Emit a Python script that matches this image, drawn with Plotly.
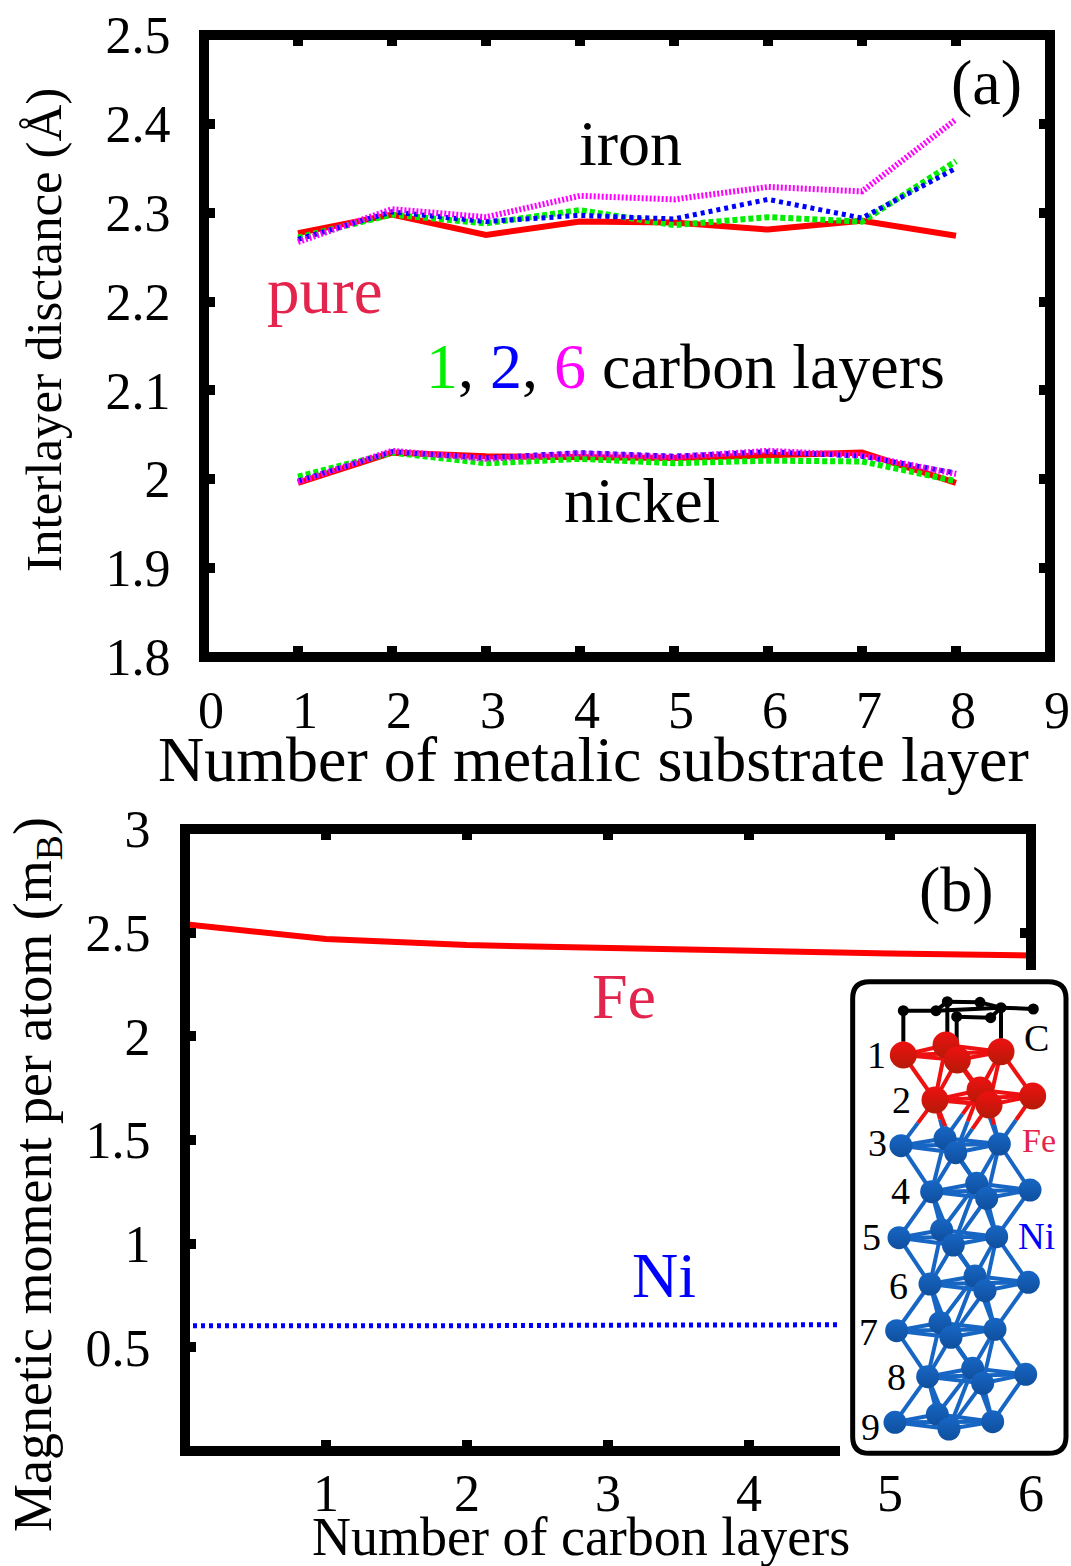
import plotly.graph_objects as go

SERIF = "Liberation Serif"
CRIMSON = "#e3254e"
WIDTH, HEIGHT = 1071, 1566

# panel (a)
layer_no = [1, 2, 3, 4, 5, 6, 7, 8]
iron_pure = [2.277, 2.298, 2.275, 2.290, 2.289, 2.281, 2.291, 2.274]
iron_c1 = [2.272, 2.298, 2.288, 2.303, 2.286, 2.295, 2.290, 2.358]
iron_c2 = [2.270, 2.301, 2.290, 2.297, 2.293, 2.315, 2.294, 2.350]
iron_c6 = [2.267, 2.304, 2.295, 2.319, 2.315, 2.329, 2.324, 2.405]
nickel_pure = [1.996, 2.030, 2.026, 2.025, 2.024, 2.027, 2.030, 1.996]
nickel_c1 = [2.003, 2.030, 2.018, 2.023, 2.018, 2.021, 2.020, 1.998]
nickel_c2 = [1.998, 2.031, 2.024, 2.030, 2.026, 2.031, 2.026, 2.007]
nickel_c6 = [1.997, 2.032, 2.023, 2.029, 2.025, 2.032, 2.027, 2.006]
a_xticks = [0, 1, 2, 3, 4, 5, 6, 7, 8, 9]
a_yticks = [1.8, 1.9, 2.0, 2.1, 2.2, 2.3, 2.4, 2.5]
a_ylabels = ["1.8", "1.9", "2", "2.1", "2.2", "2.3", "2.4", "2.5"]

# panel (b)
carbon_no = [0, 1, 2, 3, 4, 5, 6]
fe_moment = [2.541, 2.469, 2.440, 2.425, 2.415, 2.400, 2.390]
ni_moment = [0.604, 0.602, 0.604, 0.607, 0.607, 0.610, 0.610]
b_xticks = [1, 2, 3, 4, 5, 6]
b_yticks = [0.5, 1, 1.5, 2, 2.5, 3]
b_ylabels = ["0.5", "1", "1.5", "2", "2.5", "3"]

# inset structure, in the inset's own drawing units
carbon_x = [190, 288, 322, 420, 483, 580, 350, 452]
carbon_y = [122, 122, 95, 97, 113, 117, 140, 143]
carbon_bonds = [(0, 1), (1, 4), (4, 5), (2, 3), (3, 4), (6, 7), (7, 4), (1, 2)]
carbon_to_fe = [(0, 0), (2, 1), (6, 2), (4, 3)]
atom_x = [
    [190, 318, 352, 483], [285, 420, 447, 578],
    [183, 315, 347, 478], [275, 410, 440, 570],
    [177, 305, 340, 470], [270, 405, 435, 565],
    [170, 300, 333, 465], [263, 398, 428, 557],
    [165, 292, 327, 458],
]
atom_y = [
    [255, 225, 270, 245], [390, 360, 405, 378],
    [527, 505, 548, 522], [665, 640, 685, 660],
    [803, 780, 825, 800], [942, 918, 962, 937],
    [1082, 1058, 1102, 1078], [1220, 1195, 1240, 1213],
    [1357, 1333, 1377, 1355],
]
in_layer = [(0, 1), (0, 2), (0, 3), (1, 3), (2, 3)]
odd_to_even = [(0, 0), (1, 0), (2, 0), (1, 2), (2, 2), (2, 1), (3, 1), (3, 2), (3, 3)]
even_to_odd = [(0, 0), (0, 1), (0, 2), (1, 1), (1, 2), (1, 3), (2, 2), (2, 3), (3, 3)]
number_labels = ["1", "2", "3", "4", "5", "6", "7", "8", "9"]
number_x = [108, 183, 112, 180, 95, 175, 85, 168, 90]
number_y = [255, 390, 520, 662, 802, 948, 1085, 1222, 1372]


def px(x):
    return x / WIDTH


def py(y):
    return 1 - y / HEIGHT


def add_bond(xs, ys, x0, y0, x1, y1):
    xs += [x0, x1, None]
    ys += [y0, y1, None]


fig = go.Figure()

a_lines = [
    (iron_pure, "red", 6, "solid"),
    (nickel_pure, "red", 6, "solid"),
    (iron_c1, "#00ee00", 6, "5px,3px"),
    (nickel_c1, "#00ee00", 6, "5px,3px"),
    (iron_c2, "blue", 5, "4px,4px"),
    (nickel_c2, "blue", 5, "4px,4px"),
    (iron_c6, "#ff00ff", 6, "2px,2px"),
    (nickel_c6, "#ff00ff", 6, "2px,2px"),
]
for vals, color, lw, dash in a_lines:
    fig.add_trace(go.Scatter(x=layer_no, y=vals, mode="lines", showlegend=False,
                             line=dict(color=color, width=lw, dash=dash), xaxis="x", yaxis="y"))

fig.add_trace(go.Scatter(x=carbon_no, y=fe_moment, mode="lines", showlegend=False,
                         line=dict(color="red", width=6), xaxis="x2", yaxis="y2"))
fig.add_trace(go.Scatter(x=carbon_no, y=ni_moment, mode="lines", showlegend=False,
                         line=dict(color="blue", width=5, dash="4px,4px"), xaxis="x2", yaxis="y2"))

# inset bonds
black_x, black_y, red_x, red_y, blue_x, blue_y = [], [], [], [], [], []
for i, j in carbon_bonds:
    add_bond(black_x, black_y, carbon_x[i], carbon_y[i], carbon_x[j], carbon_y[j])
for i, j in carbon_to_fe:
    split = carbon_y[i] + 0.7 * (atom_y[0][j] - carbon_y[i])
    add_bond(black_x, black_y, carbon_x[i], carbon_y[i], carbon_x[i], split)
    add_bond(red_x, red_y, carbon_x[i], split, atom_x[0][j], atom_y[0][j])
for n in range(9):
    tx, ty = (red_x, red_y) if n < 2 else (blue_x, blue_y)
    for i, j in in_layer:
        add_bond(tx, ty, atom_x[n][i], atom_y[n][i], atom_x[n][j], atom_y[n][j])
    if n == 8:
        break
    for i, j in (odd_to_even if n % 2 == 0 else even_to_odd):
        x0, y0, x1, y1 = atom_x[n][i], atom_y[n][i], atom_x[n + 1][j], atom_y[n + 1][j]
        if n == 1:
            mx, my = (x0 + x1) / 2, (y0 + y1) / 2
            add_bond(red_x, red_y, x0, y0, mx, my)
            add_bond(blue_x, blue_y, mx, my, x1, y1)
        else:
            add_bond(tx, ty, x0, y0, x1, y1)

for xs, ys, color in [(blue_x, blue_y, "#1766c4"), (red_x, red_y, "#ee1111"), (black_x, black_y, "black")]:
    fig.add_trace(go.Scatter(x=xs, y=ys, mode="lines", showlegend=False, hoverinfo="skip",
                             line=dict(color=color, width=4), xaxis="x3", yaxis="y3"))

# back to front, so the nearer atoms overlap the bonds
fig.add_trace(go.Scatter(
    x=[v for row in atom_x[2:] for v in row], y=[v for row in atom_y[2:] for v in row],
    mode="markers", showlegend=False, xaxis="x3", yaxis="y3",
    marker=dict(size=23, color="#1766c4", line_width=0, gradient=dict(type="vertical", color="#0f4f9e"))))
fig.add_trace(go.Scatter(
    x=[v for row in atom_x[:2] for v in row], y=[v for row in atom_y[:2] for v in row],
    mode="markers", showlegend=False, xaxis="x3", yaxis="y3",
    marker=dict(size=27, color="#ee1111", line_width=0, gradient=dict(type="vertical", color="#b51a08"))))
fig.add_trace(go.Scatter(x=carbon_x, y=carbon_y, mode="markers", showlegend=False,
                         marker=dict(size=11, color="black"), xaxis="x3", yaxis="y3"))

frame_line = dict(color="black", width=10)
shapes = [
    dict(type="rect", xref="paper", yref="paper", x0=px(204), x1=px(1050), y0=py(657), y1=py(35),
         line=frame_line, fillcolor="rgba(0,0,0,0)", layer="above"),
    # panel (b) frame is open: the inset sits over its corner
    dict(type="path", xref="paper", yref="paper", line=frame_line, layer="above",
         path=f"M {px(840)} {py(1451)} L {px(185)} {py(1451)} L {px(185)} {py(829)} "
              f"L {px(1031)} {py(829)} L {px(1031)} {py(970)}"),
    # white mask hides the ticks and the line ends behind the inset
    dict(type="rect", xref="x3", yref="y3", x0=0, x1=693, y0=0, y1=1500,
         fillcolor="white", line_width=0, layer="below"),
    dict(type="path", xref="x3", yref="y3", layer="below", fillcolor="white",
         line=dict(color="black", width=5),
         path="M 88 35 L 625 35 Q 678 35 678 85 L 678 1400 Q 678 1450 625 1450 "
              "L 88 1450 Q 38 1450 38 1400 L 38 85 Q 38 35 88 35 Z"),
]


def note(text, x, y, size, xref, yref, color="black", angle=0):
    return dict(text=text, x=x, y=y, xref=xref, yref=yref, showarrow=False, textangle=angle,
                font=dict(family=SERIF, size=size, color=color), xanchor="center", yanchor="middle")


annotations = [
    note("(a)", 8.32, 2.446, 64, "x", "y"),
    note("iron", 4.54, 2.378, 64, "x", "y"),
    note("pure", 1.29, 2.212, 65, "x", "y", CRIMSON),
    note("<span style='color:#00ee00'>1</span>, <span style='color:blue'>2</span>, "
         "<span style='color:#ff00ff'>6</span> carbon layers", 5.12, 2.127, 64, "x", "y"),
    note("nickel", 4.66, 1.976, 64, "x", "y"),
    note("(b)", 5.47, 2.71, 64, "x2", "y2"),
    note("Fe", 3.11, 2.19, 64, "x2", "y2", CRIMSON),
    note("Ni", 3.40, 0.846, 64, "x2", "y2", "blue"),
    note("Number of metalic substrate layer", px(593), py(760), 64, "paper", "paper"),
    note("Number of carbon layers", px(581), py(1537), 54, "paper", "paper"),
    note("Interlayer disctance (Å)", px(44), py(330), 51, "paper", "paper", angle=-90),
    note("Magnetic moment per atom (m<sub>B</sub>)", px(36), py(1175), 54, "paper", "paper", angle=-90),
    note("C", 590, 205, 38, "x3", "y3"),
    note("Fe", 598, 510, 34, "x3", "y3", CRIMSON),
    note("Ni", 590, 800, 37, "x3", "y3", "blue"),
]
for label, x, y in zip(number_labels, number_x, number_y):
    annotations.append(note(label, x, y, 38, "x3", "y3"))

tick_style = dict(ticks="inside", ticklen=11, tickwidth=10, tickcolor="black", showgrid=False,
                  zeroline=False, showline=True, linewidth=1, linecolor="black", mirror="ticks",
                  automargin=False, ticklabeloverflow="allow",
                  tickfont=dict(family=SERIF, size=52, color="black"))
hidden = dict(visible=False, showgrid=False, zeroline=False, automargin=False)

fig.update_layout(
    width=WIDTH, height=HEIGHT, margin=dict(l=0, r=0, t=0, b=0),
    paper_bgcolor="white", plot_bgcolor="white", showlegend=False,
    shapes=shapes, annotations=annotations,
    xaxis=dict(tick_style, domain=[px(204), px(1050)], range=[0, 9], anchor="y",
               tickvals=a_xticks, ticklabelstandoff=8, ticklabelshift=7),
    yaxis=dict(tick_style, domain=[py(657), py(35)], range=[1.8, 2.5], anchor="x",
               tickvals=a_yticks, ticktext=a_ylabels, ticklabelstandoff=22),
    xaxis2=dict(tick_style, domain=[px(185), px(1031)], range=[0, 6], anchor="y2",
                tickvals=b_xticks, ticklabelstandoff=-3),
    yaxis2=dict(tick_style, domain=[py(1451), py(829)], range=[0, 3], anchor="x2",
                tickvals=b_yticks, ticktext=b_ylabels, ticklabelstandoff=23),
    xaxis3=dict(hidden, domain=[px(840), 1], range=[0, 693], anchor="y3"),
    yaxis3=dict(hidden, domain=[py(1470), py(970)], range=[1500, 0], anchor="x3"),
)

# the page's default 8px body margin would shift and clip the figure
fig.write_html("out.html", config={"displayModeBar": False},
               post_script="document.body.style.margin = '0';")
